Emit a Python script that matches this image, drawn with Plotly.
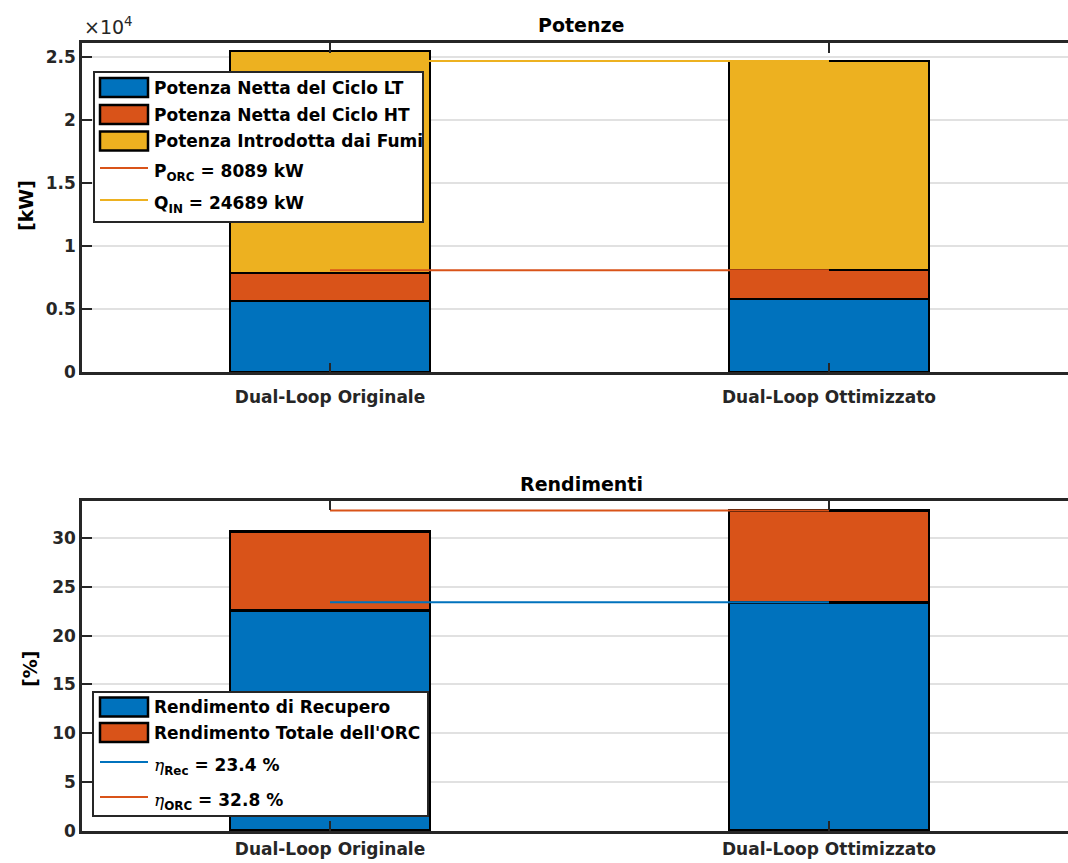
import plotly.graph_objects as go

# ---- data -------------------------------------------------------------
categories = ["Dual-Loop Originale", "Dual-Loop Ottimizzato"]
x_pos = [1, 2]

# powers [kW]
p_net_lt = [5600, 5800]
p_net_ht = [2250, 2289]
q_in_fumi = [25500, 24689]

# efficiencies [%]
eta_rec = [22.5, 23.4]
eta_orc = [30.6, 32.8]

power_names = ["Potenza Netta del Ciclo LT", "Potenza Netta del Ciclo HT",
               "Potenza Introdotta dai Fumi"]
eff_names = ["Rendimento di Recupero", "Rendimento Totale dell'ORC"]

power_ticks = [0, 5000, 10000, 15000, 20000, 25000]
power_ticktext = ["0", "0.5", "1", "1.5", "2", "2.5"]
eff_ticks = [0, 5, 10, 15, 20, 25, 30]

# ---- styling ----------------------------------------------------------
C_BLUE = "#0072BD"
C_ORANGE = "#D95319"
C_YELLOW = "#EDB120"
AX_COL = "#262626"
GRID_COL = "#e1e1e1"
FONT = "DejaVu Sans"

W, H = 1068, 863


def px(x):
    return x / W


def py(y):
    return 1 - y / H


# derived stacks
p_orc = [a + b for a, b in zip(p_net_lt, p_net_ht)]
fumi_rest = [q - p for q, p in zip(q_in_fumi, p_orc)]
orc_rest = [t - r for t, r in zip(eta_orc, eta_rec)]

P_ORC_REF = p_orc[1]
Q_IN_REF = q_in_fumi[1]
ETA_REC_REF = eta_rec[1]
ETA_ORC_REF = eta_orc[1]

fig = go.Figure()

bar_kw = dict(width=0.4, marker_line_color="black", marker_line_width=2.5,
              showlegend=False)

# top: powers
fig.add_trace(go.Bar(x=x_pos, y=p_net_lt, marker_color=C_BLUE, name=power_names[0],
                     xaxis="x", yaxis="y", **bar_kw))
fig.add_trace(go.Bar(x=x_pos, y=p_net_ht, marker_color=C_ORANGE, name=power_names[1],
                     xaxis="x", yaxis="y", **bar_kw))
fig.add_trace(go.Bar(x=x_pos, y=fumi_rest, marker_color=C_YELLOW, name=power_names[2],
                     xaxis="x", yaxis="y", **bar_kw))
fig.add_trace(go.Scatter(x=x_pos, y=[P_ORC_REF, P_ORC_REF], mode="lines",
                         line=dict(color=C_ORANGE, width=2), showlegend=False,
                         xaxis="x", yaxis="y"))
fig.add_trace(go.Scatter(x=x_pos, y=[Q_IN_REF, Q_IN_REF], mode="lines",
                         line=dict(color=C_YELLOW, width=2), showlegend=False,
                         xaxis="x", yaxis="y"))

# bottom: efficiencies
fig.add_trace(go.Bar(x=x_pos, y=eta_rec, marker_color=C_BLUE, name=eff_names[0],
                     xaxis="x2", yaxis="y2", **bar_kw))
fig.add_trace(go.Bar(x=x_pos, y=orc_rest, marker_color=C_ORANGE, name=eff_names[1],
                     xaxis="x2", yaxis="y2", **bar_kw))
fig.add_trace(go.Scatter(x=x_pos, y=[ETA_ORC_REF, ETA_ORC_REF], mode="lines",
                         line=dict(color=C_ORANGE, width=2), showlegend=False,
                         xaxis="x2", yaxis="y2"))
fig.add_trace(go.Scatter(x=x_pos, y=[ETA_REC_REF, ETA_REC_REF], mode="lines",
                         line=dict(color=C_BLUE, width=2), showlegend=False,
                         xaxis="x2", yaxis="y2"))

tick_font = dict(family=FONT, size=17, color=AX_COL, weight="bold")
xr = [0.503, 2.479]

xa = dict(range=xr, tickvals=x_pos, ticktext=categories, ticks="inside", ticklen=10,
          tickwidth=2, tickcolor=AX_COL, showline=True, linecolor=AX_COL, linewidth=2.5,
          mirror="ticks", showgrid=False, zeroline=False, tickfont=tick_font,
          domain=[px(82), 1.0], automargin=False)
ya = dict(ticks="inside", ticklen=10, tickwidth=2, tickcolor=AX_COL, showline=True,
          linecolor=AX_COL, linewidth=2.5, showgrid=True, gridcolor=GRID_COL,
          gridwidth=1.5, zeroline=False, tickfont=tick_font, automargin=False)

fig.update_layout(
    width=W, height=H,
    margin=dict(l=0, r=0, t=0, b=0),
    paper_bgcolor="white", plot_bgcolor="white",
    barmode="stack", bargap=0,
    xaxis=dict(**xa, anchor="y", ticklabelstandoff=8),
    yaxis=dict(**ya, anchor="x", range=[0, 26100], tickvals=power_ticks,
               ticktext=power_ticktext, domain=[py(372.3), py(43.3)]),
    xaxis2=dict(**xa, anchor="y2", ticklabelstandoff=1),
    yaxis2=dict(**ya, anchor="x2", range=[0, 33.8], tickvals=eff_ticks,
                domain=[py(831), py(500.7)]),
)

ann = []
shapes = []

# titles and axis labels
title_font = dict(family=FONT, size=19, color="black", weight="bold")
ann.append(dict(text="Potenze", x=px(581), y=py(25), xref="paper", yref="paper",
                showarrow=False, font=title_font, xanchor="center", yanchor="middle"))
ann.append(dict(text="Rendimenti", x=px(581), y=py(484), xref="paper", yref="paper",
                showarrow=False, font=title_font, xanchor="center", yanchor="middle"))
ann.append(dict(text="[kW]", x=px(26), y=py(206), xref="paper", yref="paper",
                showarrow=False, textangle=-90, font=title_font,
                xanchor="center", yanchor="middle"))
ann.append(dict(text="[%]", x=px(30), y=py(669), xref="paper", yref="paper",
                showarrow=False, textangle=-90, font=title_font,
                xanchor="center", yanchor="middle"))
ann.append(dict(text="×10<sup>4</sup>", x=px(82), y=py(40), xref="paper", yref="paper",
                showarrow=False, font=dict(family=FONT, size=19, color=AX_COL),
                xanchor="left", yanchor="bottom"))

leg_font = dict(family=FONT, size=17, color="black", weight="bold")
ETA = '<span style="font-family:DejaVu Serif;font-style:italic;font-weight:normal">η</span>'


def legend_box(x0, y0, x1, y1):
    shapes.append(dict(type="rect", xref="paper", yref="paper", x0=px(x0), x1=px(x1),
                       y0=py(y1), y1=py(y0), fillcolor="white",
                       line=dict(color=AX_COL, width=2), layer="above"))


def legend_patch(yc, color, label):
    shapes.append(dict(type="rect", xref="paper", yref="paper", x0=px(100), x1=px(148),
                       y0=py(yc + 9.5), y1=py(yc - 9.5), fillcolor=color,
                       line=dict(color="black", width=2.5), layer="above"))
    ann.append(dict(text=label, x=px(152), y=py(yc), xref="paper", yref="paper",
                    showarrow=False, font=leg_font, xanchor="left", yanchor="middle"))


def legend_line(yc, color, label, ytext):
    shapes.append(dict(type="line", xref="paper", yref="paper", x0=px(100), x1=px(148),
                       y0=py(yc), y1=py(yc), line=dict(color=color, width=2),
                       layer="above"))
    ann.append(dict(text=label, x=px(152), y=py(ytext), xref="paper", yref="paper",
                    showarrow=False, font=leg_font, xanchor="left", yanchor="middle"))


# legend: powers
legend_box(94, 72, 423, 222)
legend_patch(87.5, C_BLUE, power_names[0])
legend_patch(114.5, C_ORANGE, power_names[1])
legend_patch(141, C_YELLOW, power_names[2])
legend_line(168, C_ORANGE, f"P<sub>ORC</sub> = {P_ORC_REF:.0f} kW", 172)
legend_line(200, C_YELLOW, f"Q<sub>IN</sub> = {Q_IN_REF:.0f} kW", 204)

# legend: efficiencies
legend_box(93, 692, 428, 816)
legend_patch(707, C_BLUE, eff_names[0])
legend_patch(732.5, C_ORANGE, eff_names[1])
legend_line(762, C_BLUE, f"{ETA}<sub>Rec</sub> = {ETA_REC_REF:.1f} %", 766)
legend_line(797, C_ORANGE, f"{ETA}<sub>ORC</sub> = {ETA_ORC_REF:.1f} %", 801)

fig.update_layout(annotations=ann, shapes=shapes)

fig.write_html("out.html")
